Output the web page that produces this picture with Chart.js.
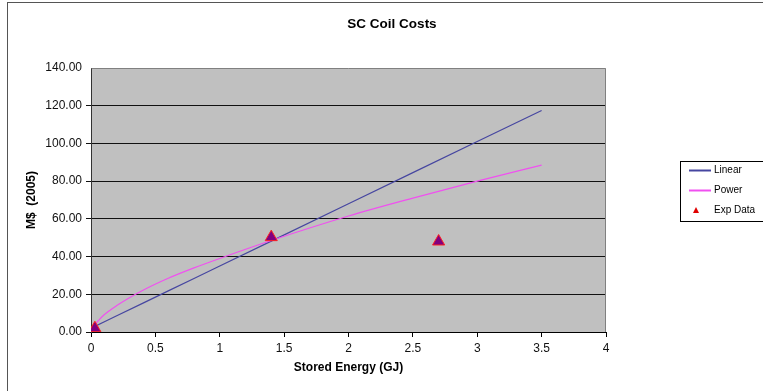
<!DOCTYPE html>
<html>
<head>
<meta charset="utf-8">
<script src="https://cdn.jsdelivr.net/npm/chart.js@4/dist/chart.umd.min.js"></script>
<style>
  html, body { margin: 0; padding: 0; background: #fff; }
  #wrap { width: 763px; height: 391px; position: relative; }
</style>
</head>
<body>
<div id="wrap"><canvas id="c" width="763" height="391"></canvas></div>
<script>
// ---- data ----
const chartTitle = 'SC Coil Costs';
const xTitle = 'Stored Energy (GJ)';
const yTitle = 'M$  (2005)';
const fitX = [0.03, 0.1, 0.2, 0.4, 0.6, 0.8, 1.0, 1.4, 2.0, 2.5, 3.0, 3.5];
const linearY = [3.0, 5.3, 8.6, 15.2, 21.8, 28.4, 35.0, 48.2, 68.0, 84.5, 101.0, 117.5];
const powerY = [4.0, 9.0, 14.0, 22.0, 28.5, 34.0, 39.0, 48.5, 61.5, 71.0, 80.0, 88.5];
const expX = [0.03, 1.4, 2.7];
const expY = [2.0, 50.3, 48.0];
const seriesNames = ['Linear', 'Power', 'Exp Data'];

const toPts = (xs, ys) => xs.map((x, i) => ({ x: x, y: ys[i] }));

const FONT = '"Liberation Sans", Arial, sans-serif';

const framePlugin = {
  id: 'frame',
  beforeDraw(chart) {
    const { ctx, chartArea: a } = chart;
    ctx.save();
    ctx.fillStyle = '#ffffff';
    ctx.fillRect(0, 0, chart.width, chart.height);
    // outer frame
    ctx.strokeStyle = '#555555';
    ctx.lineWidth = 1;
    ctx.strokeRect(7.5, 2.5, 900, 600);
    // plot background
    ctx.fillStyle = '#C0C0C0';
    ctx.fillRect(a.left, a.top, a.right - a.left, a.bottom - a.top);
    ctx.restore();
  },
  afterDatasetsDraw(chart) {
    const { ctx, chartArea: a } = chart;
    ctx.save();
    // plot border top/right (grey)
    ctx.strokeStyle = '#808080';
    ctx.lineWidth = 1;
    ctx.beginPath();
    ctx.moveTo(Math.round(a.left) + 0.5, Math.round(a.top) + 0.5);
    ctx.lineTo(Math.round(a.right) - 0.5, Math.round(a.top) + 0.5);
    ctx.lineTo(Math.round(a.right) - 0.5, Math.round(a.bottom));
    ctx.stroke();
    // title
    ctx.fillStyle = '#000';
    ctx.font = 'bold 13.5px ' + FONT;
    ctx.textAlign = 'center';
    ctx.textBaseline = 'middle';
    ctx.fillText(chartTitle, 392, 24);
    // legend
    const lx = 680, ly = 161, lw = 100, lh = 60;
    ctx.fillStyle = '#ffffff';
    ctx.fillRect(lx, ly, lw, lh);
    ctx.strokeStyle = '#000';
    ctx.strokeRect(lx + 0.5, ly + 0.5, lw, lh);
    ctx.font = '10px ' + FONT;
    ctx.textAlign = 'left';
    const rows = [170, 190, 210];
    chart.data.datasets.forEach((ds, i) => {
      const y = rows[i];
      if (i < 2) {
        ctx.strokeStyle = ds.borderColor;
        ctx.lineWidth = 2;
        ctx.beginPath();
        ctx.moveTo(689, y + 0.5);
        ctx.lineTo(711, y + 0.5);
        ctx.stroke();
      } else {
        ctx.fillStyle = '#E00000';
        ctx.beginPath();
        ctx.moveTo(696, y - 3);
        ctx.lineTo(699, y + 3);
        ctx.lineTo(693, y + 3);
        ctx.closePath();
        ctx.fill();
      }
      ctx.fillStyle = '#000';
      ctx.fillText(ds.label, 714, y + 0.5);
    });
    ctx.restore();
  }
};

new Chart(document.getElementById('c'), {
  type: 'scatter',
  data: {
    datasets: [
      {
        label: seriesNames[0],
        data: toPts(fitX, linearY),
        showLine: true,
        borderColor: '#4646A0',
        backgroundColor: '#4646A0',
        borderWidth: 1.2,
        pointRadius: 0,
        tension: 0,
        order: 3
      },
      {
        label: seriesNames[1],
        data: toPts(fitX, powerY),
        showLine: true,
        borderColor: '#F050F0',
        backgroundColor: '#F050F0',
        borderWidth: 1.2,
        pointRadius: 0,
        tension: 0.3,
        cubicInterpolationMode: 'monotone',
        order: 2
      },
      {
        label: seriesNames[2],
        data: toPts(expX, expY),
        showLine: false,
        pointStyle: 'triangle',
        pointRadius: 7,
        backgroundColor: '#800080',
        borderColor: '#FF2020',
        borderWidth: 1,
        order: 1
      }
    ]
  },
  options: {
    responsive: false,
    animation: false,
    devicePixelRatio: 1,
    layout: { padding: { left: 0, top: 68, right: 157, bottom: 0 } },
    plugins: {
      legend: { display: false },
      title: { display: false },
      tooltip: { enabled: false }
    },
    scales: {
      x: {
        type: 'linear',
        min: 0, max: 4,
        afterFit(s) { s.height = 59; },
        border: { display: true, color: '#000', width: 1 },
        grid: { display: true, drawOnChartArea: false, drawTicks: true, tickLength: 5, color: '#000' },
        ticks: {
          stepSize: 0.5,
          padding: 4,
          color: '#111',
          font: { family: FONT, size: 12 },
          maxRotation: 0,
          callback: v => String(v)
        },
        title: {
          display: true,
          text: xTitle,
          color: '#000',
          font: { family: FONT, size: 12, weight: 'bold' },
          padding: { top: 0, bottom: 16 }
        }
      },
      y: {
        type: 'linear',
        min: 0, max: 140,
        afterFit(s) { s.width = 91; },
        border: { display: true, color: '#333', width: 1 },
        grid: {
          display: true,
          drawOnChartArea: true,
          drawTicks: true,
          tickLength: 5,
          color: ctx => (ctx.tick && (ctx.tick.value === 140) ? 'rgba(0,0,0,0)' : '#111'),
          lineWidth: 1
        },
        ticks: {
          stepSize: 20,
          padding: 4,
          color: '#111',
          font: { family: FONT, size: 12 },
          callback: v => Number(v).toFixed(2)
        },
        title: {
          display: true,
          text: yTitle,
          color: '#000',
          font: { family: FONT, size: 12, weight: 'bold' },
          padding: { top: 24, bottom: 0 }
        }
      }
    }
  },
  plugins: [framePlugin]
});
</script>
</body>
</html>
